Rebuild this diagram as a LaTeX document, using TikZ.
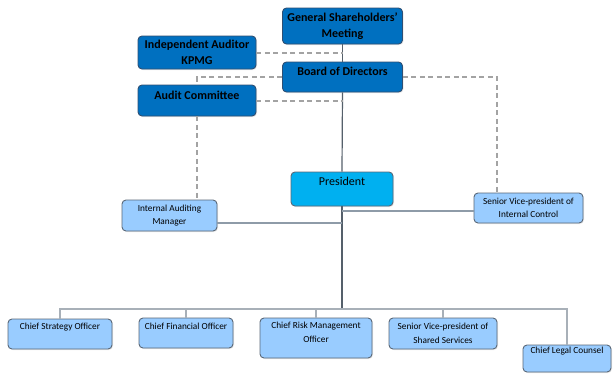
\documentclass[tikz,border=0pt]{standalone}
\usepackage{fontspec}
\setmainfont{Carlito}
\usetikzlibrary{calc,shadows}
\definecolor{topblue}{HTML}{0070C0}
\definecolor{topedge}{HTML}{2F4F73}
\definecolor{presblue}{HTML}{00B0F0}
\definecolor{lightblue}{HTML}{99CCFF}
\definecolor{lightedge}{HTML}{5A6878}
\definecolor{trunkc}{HTML}{55606B}
\definecolor{sidec}{HTML}{8E9BA8}
\definecolor{busc}{HTML}{A8B0B8}
\definecolor{dashc}{HTML}{A3A3A3}
\tikzset{
  box/.style={rounded corners=4pt, line width=0.9pt, inner sep=1pt, align=center,
    drop shadow={opacity=0.18, shadow xshift=1pt, shadow yshift=-1pt}},
  topbox/.style={box, fill=topblue, draw=topedge, font=\bfseries\fontsize{12}{16}\selectfont, text=black},
  presbox/.style={box, fill=presblue, draw=lightedge, font=\fontsize{12}{16}\selectfont},
  smallbox/.style={box, fill=lightblue, draw=lightedge, font=\fontsize{9.3}{13.5}\selectfont},
  toplbl/.style={font=\bfseries\fontsize{12}{16}\selectfont, text=black, align=center, inner sep=0pt},
  preslbl/.style={font=\fontsize{12}{16}\selectfont, align=center, inner sep=0pt},
  smalllbl/.style={font=\fontsize{9.3}{13.5}\selectfont, align=center, inner sep=0pt},
  trunk/.style={draw=trunkc, line width=1.2pt},
  side/.style={draw=sidec, line width=2pt},
  bus/.style={draw=busc, line width=1.6pt},
  dashlink/.style={draw=dashc, line width=2pt, dash pattern=on 5pt off 3.5pt},
}
\begin{document}
\begin{tikzpicture}[x=1pt,y=-1pt]
\useasboundingbox[fill=white] (0,0) rectangle (614,373);
% top boxes
\node[topbox, minimum width=120, minimum height=36] (gsm) at (342.5,26) {General Shareholders'\\Meeting};
\node[topbox, minimum width=118, minimum height=33] (ia) at (197,52.5) {Independent Auditor\\KPMG};
\node[topbox, minimum width=120, minimum height=30, label={[toplbl,yshift=6pt]center:Board of Directors}] (board) at (342.5,77) {};
\node[topbox, minimum width=118, minimum height=31, label={[toplbl,yshift=5.5pt]center:Audit Committee}] (ac) at (197,100.5) {};
% president level
\node[presbox, minimum width=102, minimum height=34, label={[preslbl,yshift=8pt]center:President}] (pres) at (342,189) {};
\node[smallbox, minimum width=95, minimum height=31] (iam) at (169.5,215.5) {Internal Auditing\\Manager};
\node[smallbox, minimum width=109, minimum height=30] (svpic) at (528.5,208) {Senior Vice-president of\\Internal Control};
% bottom level
\node[smallbox, minimum width=104, minimum height=30, label={[smalllbl,yshift=7pt]center:Chief Strategy Officer}] (cso) at (60,334) {};
\node[smallbox, minimum width=94, minimum height=30, label={[smalllbl,yshift=7pt]center:Chief Financial Officer}] (cfo) at (186,333) {};
\node[smallbox, minimum width=112, minimum height=40, label={[smalllbl,yshift=5.5pt]center:Chief Risk Management\\Officer}] (crmo) at (316,338) {};
\node[smallbox, minimum width=108, minimum height=31] (svpss) at (443,333.5) {Senior Vice-president of\\Shared Services};
\node[smallbox, minimum width=88, minimum height=27, label={[smalllbl,yshift=7.5pt]center:Chief Legal Counsel}] (clc) at (567,358.5) {};
% helper coordinates
\coordinate (bus) at (342,309);
\coordinate (icx) at (497,0);
% trunk
\draw[trunk] (gsm.south) -- (board.north);
\draw[trunk] (board.south) -- (pres.north);
\draw[trunk] (pres.south) -- (bus);
% dashed links
\draw[dashlink] (ia.east) -- (ia.east -| gsm.south);
\draw[dashlink] (ac.east) -- (ac.east -| board.south);
\draw[dashlink] (board.west) -- (board.west -| ac.north) -- (ac.north);
\draw[dashlink] (ac.south) -- (ac.south |- iam.north);
\draw[dashlink] (board.east) -- (board.east -| icx) -- (icx |- svpic.north);
% side links
\draw[side] ([yshift=-7.5pt]iam.east) -- ([yshift=-7.5pt]iam.east -| pres.south);
\draw[side] ([yshift=-3pt]svpic.west) -- ([yshift=-3pt]svpic.west -| pres.south);
% bus
\draw[bus] (cso.north) -- (cso.north |- bus) -- (bus -| clc.north) -- (clc.north);
\draw[bus] (cfo.north) -- (cfo.north |- bus);
\draw[bus] (crmo.north) -- (crmo.north |- bus);
\draw[bus] (svpss.north) -- (svpss.north |- bus);
\end{tikzpicture}
\end{document}
